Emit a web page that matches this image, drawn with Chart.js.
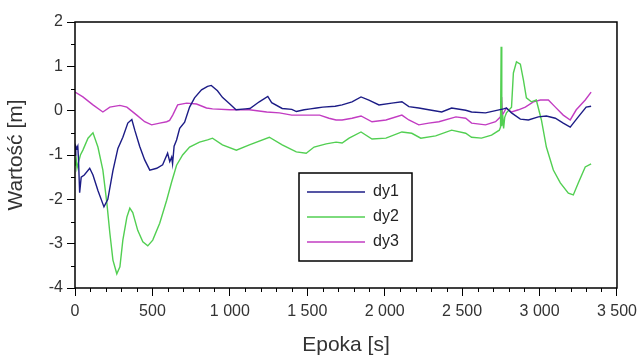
<!DOCTYPE html>
<html>
<head>
<meta charset="utf-8">
<script src="https://cdn.jsdelivr.net/npm/chart.js@4.4.1/dist/chart.umd.min.js"></script>
<style>
  body { margin: 0; background: #fff; }
</style>
</head>
<body>
<canvas id="wykres" width="643" height="363"></canvas>
<script>
// tick values of both axes
var xTicks = [0, 500, 1000, 1500, 2000, 2500, 3000, 3500];
var yTicks = [-4, -3, -2, -1, 0, 1, 2];

// series: epoch [s] and value [m]
var dy1X = [0, 5, 12, 18, 22, 30, 40, 60, 95, 116, 148, 187, 212, 245, 277, 309, 341, 367, 386, 418, 450, 483, 528, 566, 598, 612, 624, 630, 640, 656, 676, 708, 740, 772, 817, 856, 880, 920, 952, 1000, 1040, 1100, 1130, 1190, 1245, 1270, 1338, 1400, 1430, 1480, 1520, 1560, 1600, 1680, 1725, 1789, 1847, 1898, 1963, 2046, 2111, 2156, 2220, 2284, 2368, 2432, 2523, 2561, 2651, 2716, 2767, 2786, 2819, 2876, 2928, 2992, 3044, 3102, 3153, 3198, 3250, 3301, 3333];
var dy1Y = [-1.0, -0.8, -0.85, -0.8, -1.05, -1.85, -1.5, -1.45, -1.3, -1.45, -1.8, -2.17, -2.0, -1.35, -0.85, -0.6, -0.28, -0.2, -0.44, -0.81, -1.11, -1.34, -1.3, -1.22, -0.96, -1.15, -1.05, -1.2, -0.8, -0.66, -0.4, -0.26, 0.08, 0.29, 0.47, 0.55, 0.57, 0.45, 0.3, 0.15, 0.02, 0.04, 0.05, 0.2, 0.32, 0.18, 0.05, 0.03, -0.02, 0.02, 0.04, 0.06, 0.08, 0.1, 0.13, 0.2, 0.31, 0.24, 0.13, 0.17, 0.2, 0.09, 0.06, 0.02, -0.03, 0.06, 0.01, -0.03, -0.05, 0.0, 0.04, 0.06, -0.05, -0.19, -0.21, -0.14, -0.12, -0.17, -0.28, -0.37, -0.14, 0.08, 0.1];

var dy2X = [0, 8, 13, 20, 35, 51, 84, 116, 148, 180, 206, 225, 245, 270, 290, 309, 335, 354, 373, 405, 438, 470, 502, 547, 592, 624, 656, 695, 740, 804, 856, 888, 952, 1042, 1126, 1255, 1338, 1429, 1493, 1544, 1622, 1686, 1725, 1770, 1847, 1918, 2008, 2111, 2175, 2233, 2329, 2432, 2523, 2561, 2625, 2690, 2740, 2748, 2752, 2756, 2762, 2768, 2775, 2786, 2819, 2831, 2851, 2876, 2896, 2915, 2947, 2979, 3012, 3044, 3089, 3134, 3186, 3218, 3250, 3295, 3333];
var dy2Y = [-1.25, -1.1, -1.3, -1.2, -1.0, -0.89, -0.62, -0.5, -0.82, -1.34, -2.09, -2.76, -3.37, -3.68, -3.52, -2.92, -2.4, -2.2, -2.3, -2.7, -2.96, -3.05, -2.92, -2.54, -2.02, -1.61, -1.23, -1.0, -0.82, -0.71, -0.66, -0.62, -0.77, -0.89, -0.77, -0.6, -0.77, -0.93, -0.96, -0.82, -0.75, -0.71, -0.73, -0.62, -0.48, -0.64, -0.62, -0.48, -0.51, -0.62, -0.57, -0.44, -0.51, -0.6, -0.62, -0.55, -0.44, -0.37, 1.44, -0.35, -0.1, -0.4, -0.15, -0.05, 0.08, 0.85, 1.1, 1.05, 0.69, 0.29, 0.2, 0.24, -0.21, -0.82, -1.34, -1.63, -1.86, -1.9, -1.63, -1.27, -1.2];

var dy3X = [0, 51, 116, 180, 225, 290, 335, 399, 450, 495, 547, 592, 611, 631, 663, 721, 785, 849, 888, 1000, 1126, 1238, 1320, 1400, 1493, 1580, 1640, 1686, 1725, 1789, 1847, 1918, 2008, 2111, 2156, 2220, 2284, 2350, 2460, 2523, 2561, 2651, 2716, 2748, 2755, 2760, 2786, 2819, 2864, 2908, 2960, 3005, 3057, 3102, 3153, 3198, 3237, 3295, 3333];
var dy3Y = [0.42, 0.31, 0.13, -0.03, 0.08, 0.12, 0.08, -0.1, -0.25, -0.32, -0.28, -0.25, -0.22, -0.1, 0.13, 0.17, 0.15, 0.06, 0.04, 0.02, 0.02, -0.03, -0.05, -0.1, -0.1, -0.1, -0.17, -0.21, -0.21, -0.17, -0.12, -0.25, -0.21, -0.1, -0.21, -0.32, -0.28, -0.25, -0.14, -0.17, -0.28, -0.32, -0.25, -0.14, 0.31, -0.1, 0.06, -0.03, 0.02, 0.08, 0.2, 0.24, 0.24, 0.08, -0.1, -0.21, 0.02, 0.24, 0.42];

var fontName = "'Liberation Sans', Arial, sans-serif";

function pary(xs, ys) {//join x and y arrays into points
  return xs.map(function (x, i) { return { x: x, y: ys[i] }; });
}

function liczba(v) {//"1 000" style labels
  if (Math.abs(v) < 1000) return String(v);
  return Math.floor(v / 1000) + ' ' + String(v % 1000).padStart(3, '0');
}

// frame, minor ticks and the legend box inside the plot
var dodatki = {
  id: 'dodatki',
  afterDraw: function (chart) {
    var ctx = chart.ctx, a = chart.chartArea;
    var sx = chart.scales.x, sy = chart.scales.y;
    ctx.save();
    ctx.strokeStyle = '#000';
    ctx.lineWidth = 1.5;
    ctx.strokeRect(a.left, a.top, a.right - a.left, a.bottom - a.top);

    ctx.lineWidth = 1;
    ctx.beginPath();
    for (var v = 100; v < 3500; v += 100) {//minor x ticks
      if (v % 500 === 0) continue;
      var px = Math.round(sx.getPixelForValue(v)) + 0.5;
      ctx.moveTo(px, a.bottom);
      ctx.lineTo(px, a.bottom + 4);
    }
    for (var w = -3.5; w < 2; w += 1) {//minor y ticks
      var py = Math.round(sy.getPixelForValue(w)) + 0.5;
      ctx.moveTo(a.left, py);
      ctx.lineTo(a.left - 4, py);
    }
    ctx.stroke();

    // legend
    var lx = 299, ly = 173, lw = 113, lh = 88;
    ctx.fillStyle = '#fff';
    ctx.fillRect(lx, ly, lw, lh);
    ctx.lineWidth = 1.5;
    ctx.strokeRect(lx, ly, lw, lh);
    ctx.font = '16px ' + fontName;
    ctx.textBaseline = 'middle';
    chart.data.datasets.forEach(function (ds, i) {
      var y = ly + 19 + i * 25;
      ctx.strokeStyle = ds.borderColor;
      ctx.lineWidth = 1.5;
      ctx.beginPath();
      ctx.moveTo(lx + 8, y);
      ctx.lineTo(lx + 66, y);
      ctx.stroke();
      ctx.fillStyle = '#222';
      ctx.fillText(ds.label, lx + 74, y);
    });
    ctx.restore();
  }
};

new Chart(document.getElementById('wykres'), {
  type: 'line',
  data: {
    datasets: [
      { label: 'dy1', data: pary(dy1X, dy1Y), borderColor: '#1c1c86', borderWidth: 1.4 },
      { label: 'dy2', data: pary(dy2X, dy2Y), borderColor: '#52cf52', borderWidth: 1.4 },
      { label: 'dy3', data: pary(dy3X, dy3Y), borderColor: '#c23cc2', borderWidth: 1.4 }
    ]
  },
  options: {
    responsive: false,
    animation: false,
    devicePixelRatio: 1,
    elements: { point: { radius: 0 }, line: { tension: 0 } },
    layout: { padding: { top: 22, right: 24, left: 0, bottom: 0 } },
    plugins: { legend: { display: false }, tooltip: { enabled: false } },
    scales: {
      x: {
        type: 'linear',
        min: 0,
        max: 3500,
        afterBuildTicks: function (s) { s.ticks = xTicks.map(function (v) { return { value: v }; }); },
        afterFit: function (s) { s.height = 75; },
        border: { display: false },
        grid: { drawOnChartArea: false, drawTicks: true, tickLength: 8, color: '#000' },
        ticks: { padding: 6, color: '#333', font: { family: fontName, size: 16 }, maxRotation: 0, callback: liczba },
        title: { display: true, text: 'Epoka [s]', color: '#333', font: { family: fontName, size: 21 }, padding: { top: 0, bottom: 5 } }
      },
      y: {
        type: 'linear',
        min: -4,
        max: 2,
        afterBuildTicks: function (s) { s.ticks = yTicks.map(function (v) { return { value: v }; }); },
        afterFit: function (s) { s.width = 75; },
        border: { display: false },
        grid: { drawOnChartArea: false, drawTicks: true, tickLength: 8, color: '#000' },
        ticks: { padding: 4, color: '#333', font: { family: fontName, size: 16 }, callback: liczba },
        title: { display: true, text: 'Wartość [m]', color: '#333', font: { family: fontName, size: 21 }, padding: { top: 4, bottom: 0 } }
      }
    }
  },
  plugins: [dodatki]
});
</script>
</body>
</html>
